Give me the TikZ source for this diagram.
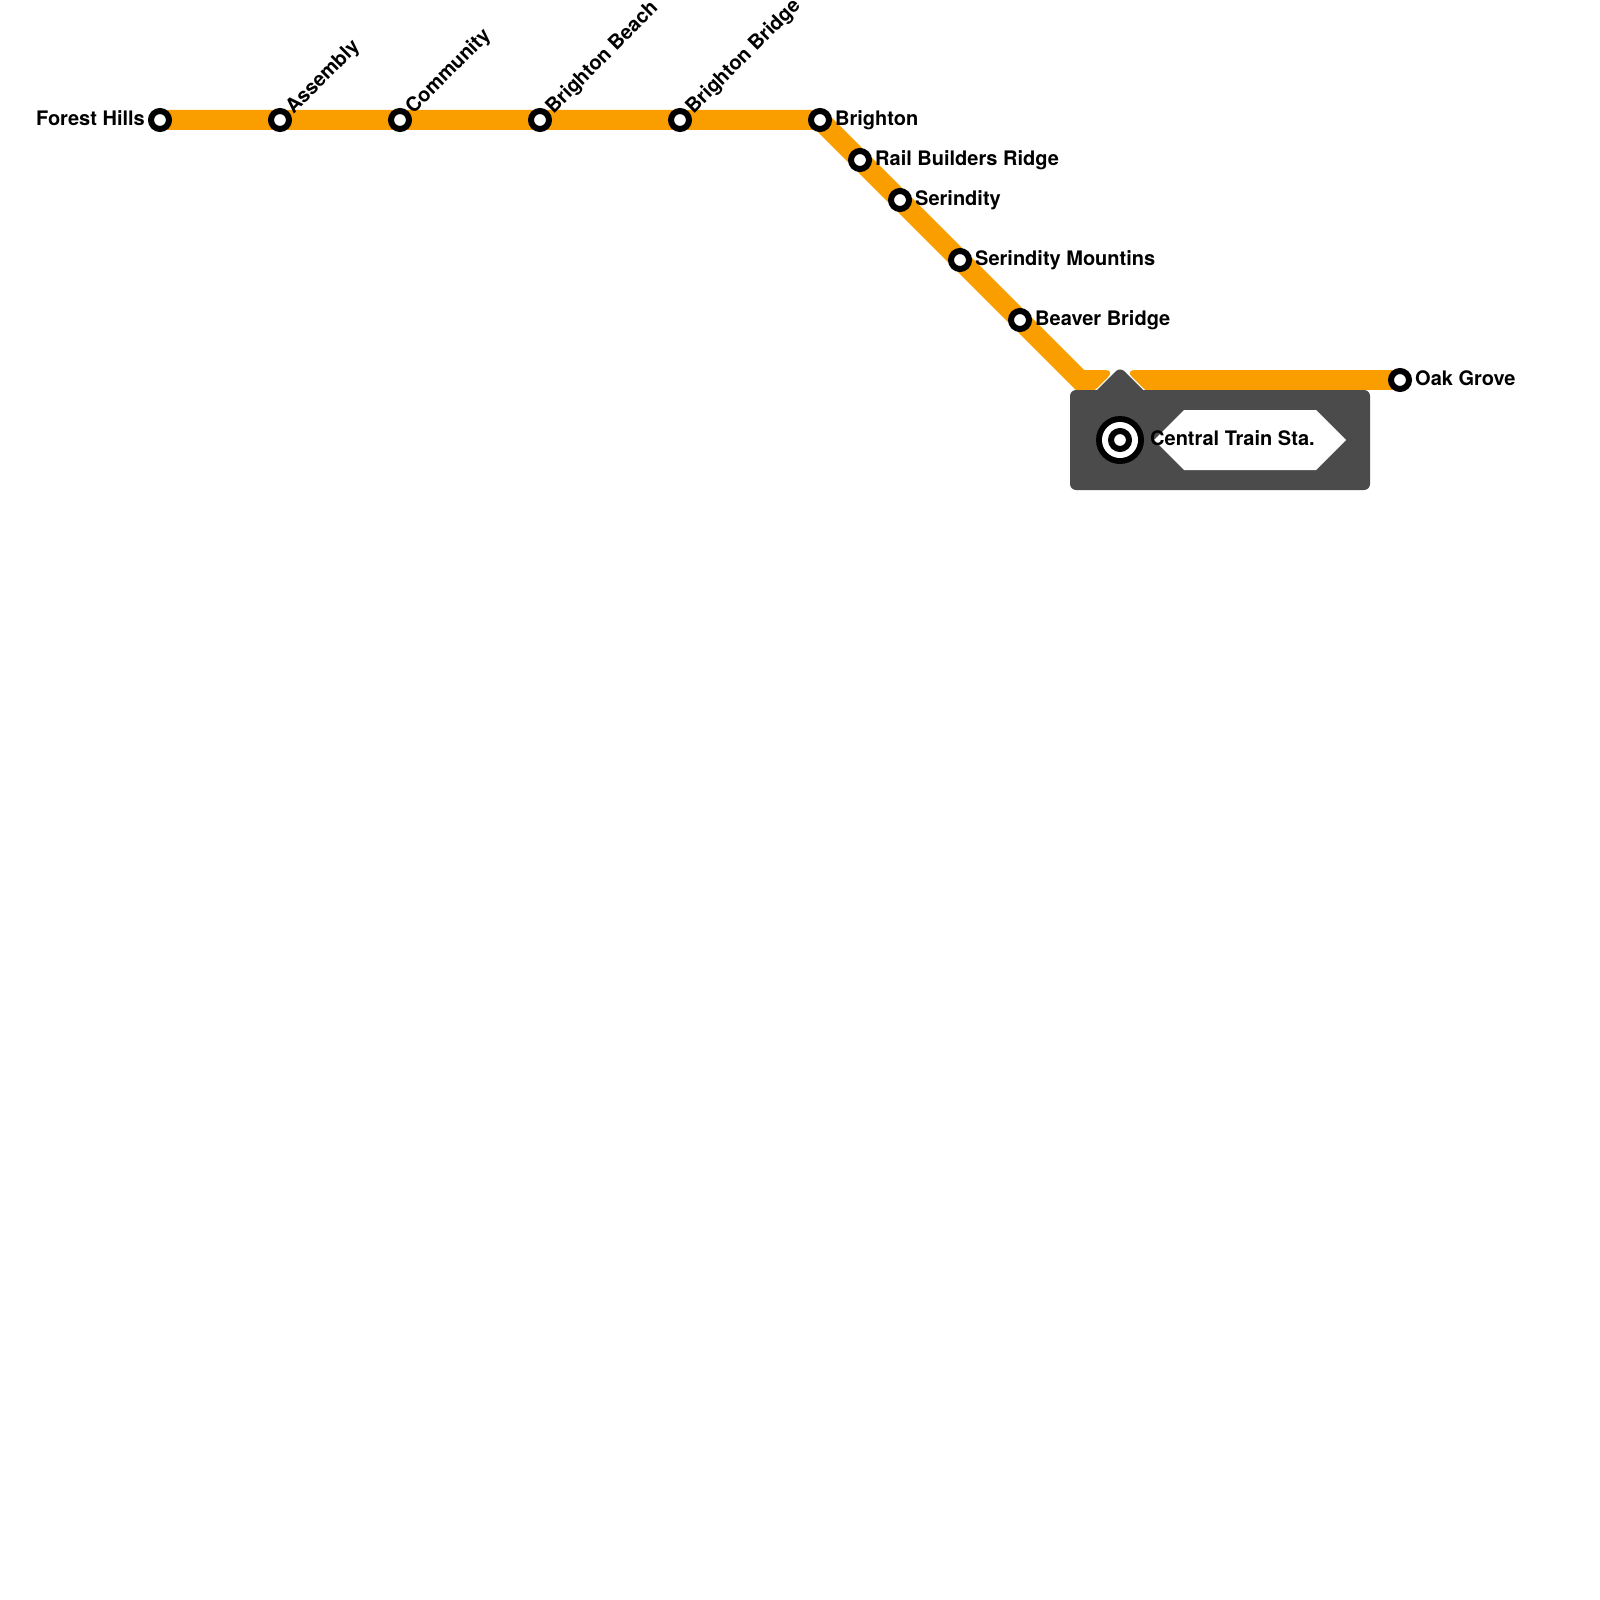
\documentclass[tikz,border=0pt]{standalone}
\usepackage{fontspec}
\setmainfont{TeX Gyre Heros}
\usepackage{xcolor}
\usetikzlibrary{positioning, calc, backgrounds}
\definecolor{lineorange}{HTML}{FA9E00}
\definecolor{stationgrey}{HTML}{4B4B4B}
\tikzset{
    station/.style={circle, draw=black, fill=white, line width=6pt, minimum size=18pt, inner sep=0pt},
    stationlabel/.style={font=\fontsize{20}{24}\selectfont\bfseries, inner sep=0pt, text=black, text height=14pt, text depth=4pt},
    risinglabel/.style={stationlabel, anchor=west, rotate=45},
    railline/.style={draw=lineorange, line width=20pt, line join=miter}
}

\begin{document}
\begin{tikzpicture}[x=1pt, y=-1pt]
        \useasboundingbox (0,0) rectangle (1600,1600);

        \node[station] (ForestHills) at (160,120) {};
        \node[station] (Assembly) at (280,120) {};
        \node[station] (Community) at (400,120) {};
        \node[station] (BrightonBeach) at (540,120) {};
        \node[station] (BrightonBridge) at (680,120) {};
        \node[station] (Brighton) at (820,120) {};
        \node[station] (RailBuilders) at (860,160) {};
        \node[station] (Serindity) at (900,200) {};
        \node[station] (SerindityMountins) at (960,260) {};
        \node[station] (BeaverBridge) at (1020,320) {};
        \node[station] (OakGrove) at (1400,380) {};

        \coordinate (BendEast) at (1080,380);
        \coordinate (StubWest) at (1095,380);
        \coordinate (StubEast) at (1145,380);

        \begin{scope}[on background layer]
            \draw[railline] (ForestHills.center) -- (Brighton.center) -- (BendEast) -- (StubWest);% West part
            \draw[railline] (StubEast) -- (OakGrove.center);% East part
            \fill[lineorange, rounded corners=10pt] (1085,370) -- (1115,370) -- (1090,395) -- (1085,395) -- cycle;
            \fill[lineorange, rounded corners=10pt] (1155,370) -- (1125,370) -- (1150,395) -- (1155,395) -- cycle;
            % Central box
            \fill[stationgrey, rounded corners=6pt] (1070,390) rectangle (1370,490);
            \fill[stationgrey, rounded corners=6pt] (1087,400) -- (1120,367) -- (1153,400) -- cycle;
            \fill[white] (1184,410) -- (1316,410) -- (1346,440) -- (1316,470) -- (1184,470) -- (1154,440) -- cycle;
        \end{scope}

        % Central station
        \node[circle, fill=black, minimum size=48pt, inner sep=0pt, outer sep=0pt] (Central) at (1120,440) {};
        \node[circle, fill=white, minimum size=36pt, inner sep=0pt, outer sep=0pt] (CentralRing) at (Central) {};
        \node[station] (CentralStop) at (Central) {};

        \node[stationlabel, left=3pt of ForestHills.west] (lblForestHills) {Forest Hills};
        \node[risinglabel] (lblAssembly) at ($(Assembly)+(10,-9)$) {Assembly};
        \node[risinglabel] (lblCommunity) at ($(Community)+(10,-9)$) {Community};
        \node[risinglabel] (lblBrightonBeach) at ($(BrightonBeach)+(10,-9)$) {Brighton Beach};
        \node[risinglabel] (lblBrightonBridge) at ($(BrightonBridge)+(10,-9)$) {Brighton Bridge};
        \node[stationlabel, right=3pt of Brighton.east] (lblBrighton) {Brighton};
        \node[stationlabel, right=3pt of RailBuilders.east] (lblRailBuilders) {Rail Builders Ridge};
        \node[stationlabel, right=3pt of Serindity.east] (lblSerindity) {Serindity};
        \node[stationlabel, right=3pt of SerindityMountins.east] (lblSerindityMountins) {Serindity Mountins};
        \node[stationlabel, right=3pt of BeaverBridge.east] (lblBeaverBridge) {Beaver Bridge};
        \node[stationlabel, right=6pt of Central.east] (lblCentral) {Central Train Sta.};
        \node[stationlabel, right=3pt of OakGrove.east] (lblOakGrove) {Oak Grove};
    \end{tikzpicture}
\end{document}
